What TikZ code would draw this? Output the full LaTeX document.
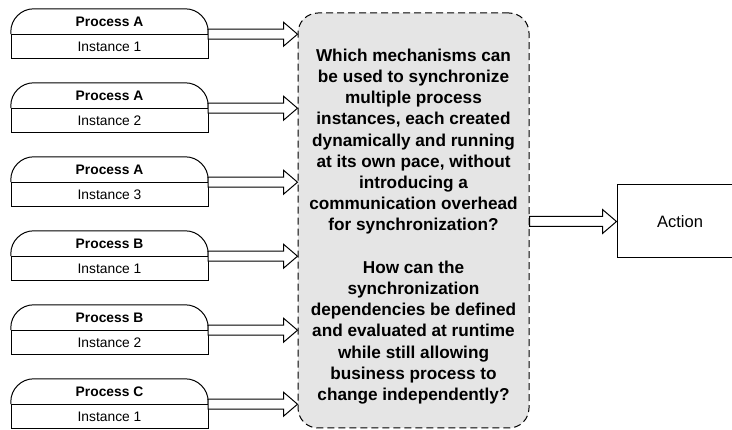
\documentclass[tikz,border=0pt]{standalone}
\usepackage{fontspec}
\setmainfont{Liberation Sans}
\usetikzlibrary{calc}

\tikzset{
  lbl/.style={inner sep=0pt, minimum width=197pt},
  proctop/.style={lbl, minimum height=25pt, font=\fontsize{13.8}{15}\selectfont\bfseries},
  procbot/.style={lbl, minimum height=24pt, draw, line width=1pt, fill=white, font=\fontsize{13.8}{15}\selectfont},
  question/.style={draw, dashed, dash pattern=on 7pt off 4pt, line width=1pt, fill=black!10,
    rounded corners=20pt, minimum width=231pt, minimum height=415pt, inner sep=0pt},
  questiontext/.style={inner sep=0pt, align=center, font=\fontsize{17.2}{21.2}\selectfont\bfseries},
  actionbox/.style={draw, line width=1pt, fill=white, minimum width=126pt, minimum height=73pt,
    inner sep=0pt, font=\fontsize{16.5}{19}\selectfont},
  hollow/.style={draw, line width=1pt, fill=white, line join=miter},
}

% hollow block arrow from the point #1 to the tip #2 (same height)
\newcommand\hollowarrow[2]{%
  \path[hollow] let \p1=(#1), \p2=(#2) in
    (\x1,\y1+5pt) -- (\x2-14pt,\y1+5pt) -- (\x2-14pt,\y1+12pt) -- (\x2,\y1)
    -- (\x2-14pt,\y1-12pt) -- (\x2-14pt,\y1-5pt) -- (\x1,\y1-5pt) -- cycle;}

\begin{document}
\begin{tikzpicture}[x=1pt,y=-1pt]
\useasboundingbox (0,0) rectangle (732,430);
\clip (0,0) rectangle (732,430);

% central question box
\node[question] (q) at (413.5,220.5) {};
\node[questiontext] (qt) at ([yshift=-6pt]q.center) {%
Which mechanisms can\\
be used to synchronize\\
multiple process\\
instances, each created\\
dynamically and running\\
at its own pace, without\\
introducing a\\
communication overhead\\
for synchronization?\\[21.2pt]
How can the\\
synchronization\\
dependencies be defined\\
and evaluated at runtime\\
while still allowing\\
business process to\\
change independently?};

% process instances
\foreach \k/\proc/\inst in {0/A/1,1/A/2,2/A/3,3/B/1,4/B/2,5/C/1}{
  \node[proctop] (t\k) at (109.5,{21.5+74*\k}) {Process \proc};
  \draw[line width=1pt, rounded corners=23pt]
    (t\k.south west) -- (t\k.north west) -- (t\k.north east) -- (t\k.south east);
  \node[procbot, anchor=north] (b\k) at (t\k.south) {Instance \inst};
  \hollowarrow{t\k.south east}{q.west |- t\k.south east}
}

% action
\node[actionbox] (act) at (680,221.5) {Action};
\hollowarrow{q.east |- act.west}{act.west}
\end{tikzpicture}
\end{document}
